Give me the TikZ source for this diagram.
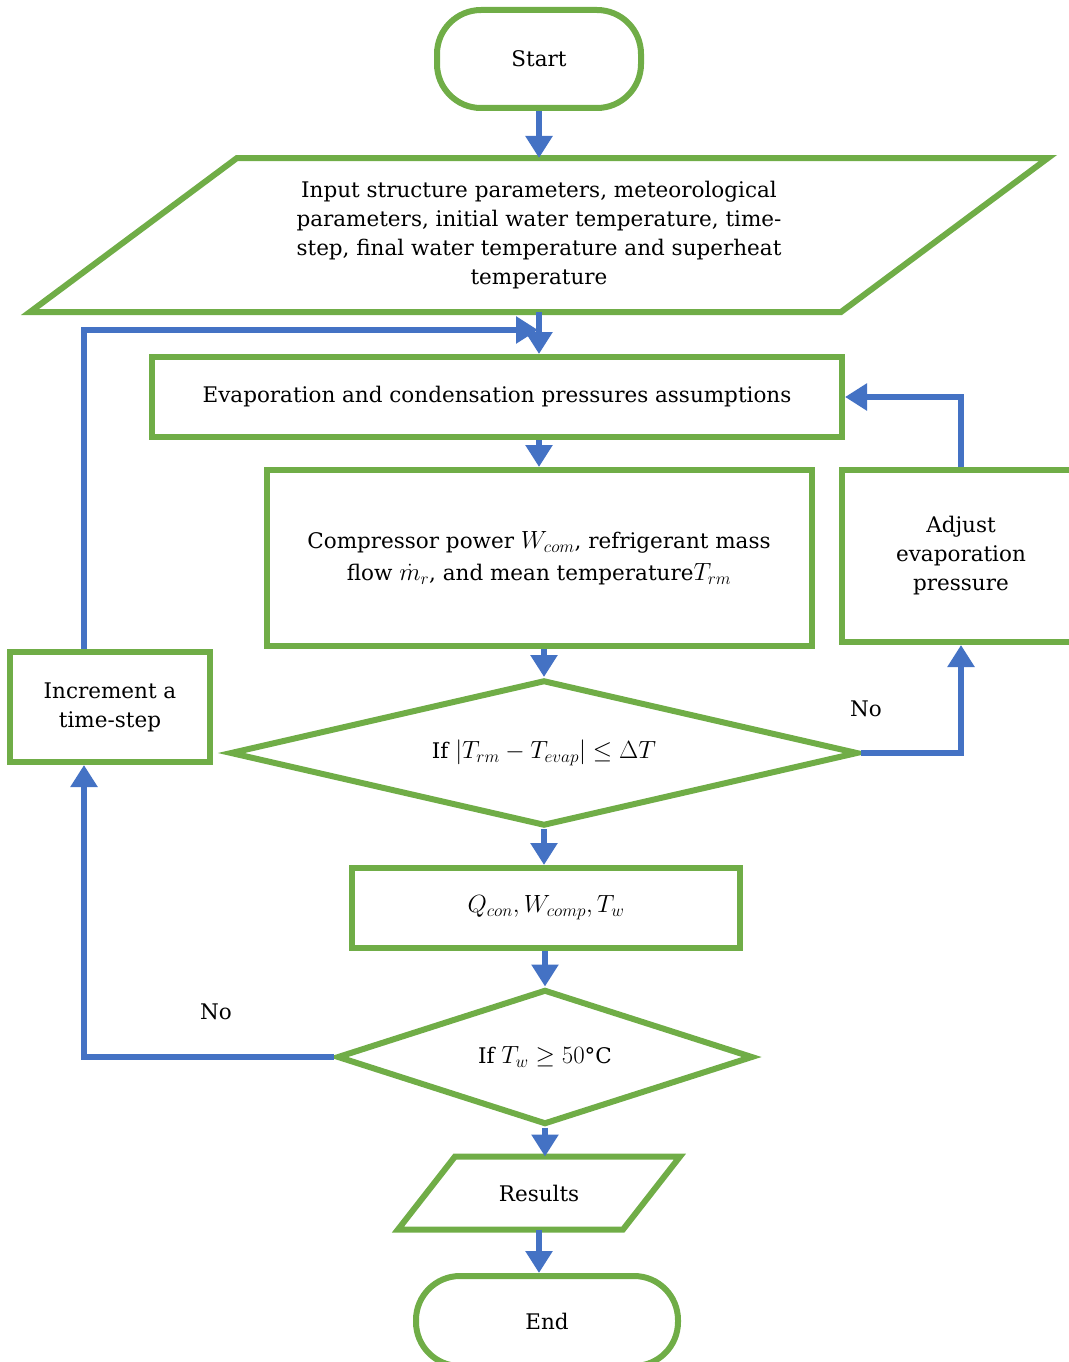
\documentclass[tikz,border=0pt]{standalone}
\usepackage{fontspec}
\setmainfont{DejaVu Serif}
\DeclareMathSizes{21.5}{24.88}{17.28}{12}
\usetikzlibrary{shapes.geometric,arrows.meta}
\definecolor{boxgreen}{RGB}{112,173,71}
\definecolor{flowblue}{RGB}{68,114,196}

\begin{document}
\begin{tikzpicture}[x=1pt,y=-1pt,
  every node/.style={font=\fontsize{21.5}{29}\selectfont,align=center,inner sep=0pt},
  box/.style={draw=boxgreen,line width=6pt,rectangle},
  term/.style={box,rounded corners=44pt},
  io/.style={rectangle,outer sep=0pt},
  iobox/.style={draw=boxgreen,line width=6pt},
  test/.style={draw=boxgreen,line width=6pt,diamond},
  flow/.style={draw=flowblue,line width=6pt,-{Triangle[width=26pt,length=22pt]}}]
  \useasboundingbox(0,0)rectangle(1068,1362);
  \node[term,minimum width=204pt,minimum height=98pt](start)at(539,59){Start};
  \node[io,minimum width=1018pt,minimum height=154pt](input)at(539,235)
    {Input structure parameters, meteorological\\parameters, initial water temperature, time-\\step, final water temperature and superheat\\temperature};
  \draw[iobox]([xshift=207pt]input.north west)--(input.north east)--([xshift=-207pt]input.south east)--(input.south west)--cycle;
  \node[box,minimum width=690pt,minimum height=80pt](evap)at(497,397){Evaporation and condensation pressures assumptions};
  \node[box,minimum width=545pt,minimum height=176pt](comp)at(539,558)
    {Compressor power $W_{com}$, refrigerant mass\\[3pt]flow $\dot{m}_r$, and mean temperature$T_{rm}$};
  \node[box,minimum width=238pt,minimum height=172pt](adjust)at(961,556){Adjust\\evaporation\\pressure};
  \node[test,aspect=4.3,minimum width=628pt,minimum height=146pt](dia1)at(544,753){If $\left|T_{rm}-T_{evap}\right|\leq\Delta T$};
  \node[box,minimum width=388pt,minimum height=80pt](qbox)at(546,908){$Q_{con}, W_{comp}, T_w$};
  \node[test,aspect=3.08,minimum width=416pt,minimum height=135pt](dia2)at(545,1057){If $T_w\geq 50$°C};
  \node[box,minimum width=200pt,minimum height=110pt](inc)at(110,707){Increment a\\time-step};
  \node[io,minimum width=282pt,minimum height=73pt](results)at(539,1193){Results};
  \draw[iobox]([xshift=57pt]results.north west)--(results.north east)--([xshift=-57pt]results.south east)--(results.south west)--cycle;
  \node[term,minimum width=262pt,minimum height=90pt](end)at(547,1321){End};
  \node(no1)at(866,709){No};
  \node(no2)at(216,1012){No};
  \coordinate(join)at(538,330);
  \draw[flow](start.south)--(start.south|-input.north);
  \draw[flow](input.south)--(input.south|-evap.north);
  \draw[flow](comp.north|-evap.south)--(comp.north);
  \draw[flow](dia1.north|-comp.south)--(dia1.north);
  \draw[flow](dia1.south)--(dia1.south|-qbox.north);
  \draw[flow](dia2.north|-qbox.south)--(dia2.north);
  \draw[flow](dia2.south)--(dia2.south|-results.north);
  \draw[flow](results.south)--(results.south|-end.north);
  \draw[flow](dia1.east)-|(adjust.south);
  \draw[flow](adjust.north)|-(evap.east);
  \draw[flow](dia2.west)-|([xshift=-26pt]inc.south);
  \draw[flow]([xshift=-26pt]inc.north)|-(join);
\end{tikzpicture}
\end{document}
